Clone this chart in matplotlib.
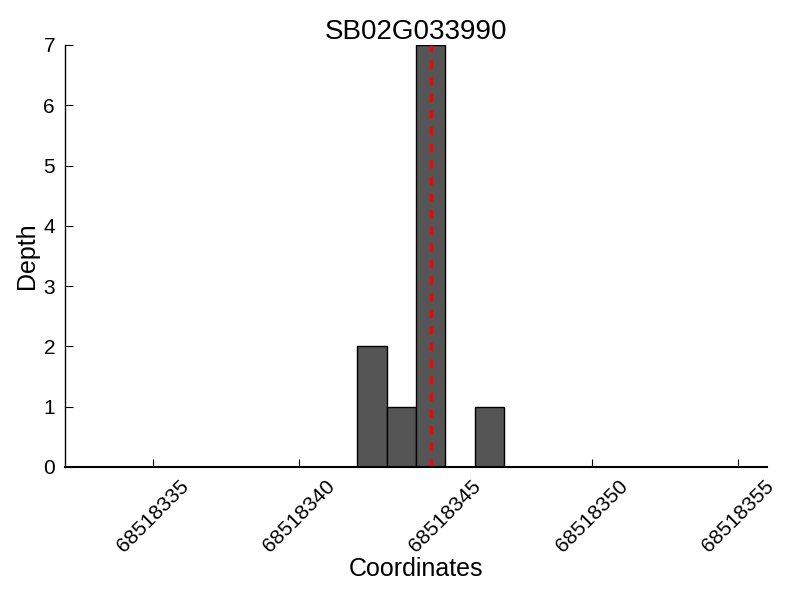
import matplotlib
matplotlib.use("Agg")
import matplotlib.pyplot as plt

plt.rcParams['font.family'] = ['Liberation Sans', 'DejaVu Sans']

title = "SB02G033990"
positions = [68518342, 68518343, 68518344, 68518345, 68518346]
depths = [2, 1, 7, 0, 1]
marker_pos = 68518344.5
xticks = [68518335, 68518340, 68518345, 68518350, 68518355]
yticks = [0, 1, 2, 3, 4, 5, 6, 7]

fig = plt.figure(figsize=(8, 6), dpi=100)
ax = fig.add_axes([0.081, 0.222, 0.878, 0.703])

ax.bar(positions, depths, width=1.0, align='edge', color='#555555',
       edgecolor='black', linewidth=1.0)
ax.axvline(marker_pos, color='red', linestyle=(0, (2.6, 2.6)), linewidth=2.3)

ax.set_xlim(68518332, 68518356)
ax.set_ylim(0, 7)
ax.set_xticks(xticks)
ax.set_xticklabels([str(v) for v in xticks], rotation=45, ha='center')
ax.set_yticks(yticks)

for s in ['top', 'right']:
    ax.spines[s].set_visible(False)
ax.spines['left'].set_linewidth(1.0)
ax.spines['bottom'].set_linewidth(1.5)
ax.tick_params(direction='in', length=6, width=0.8, labelsize=15, pad=7,
               top=False, right=False)

ax.set_title(title, fontsize=20, pad=2)
ax.set_xlabel("Coordinates", fontsize=18, labelpad=1)
ax.set_ylabel("Depth", fontsize=18, labelpad=3)

fig.savefig("out.png", dpi=100)
